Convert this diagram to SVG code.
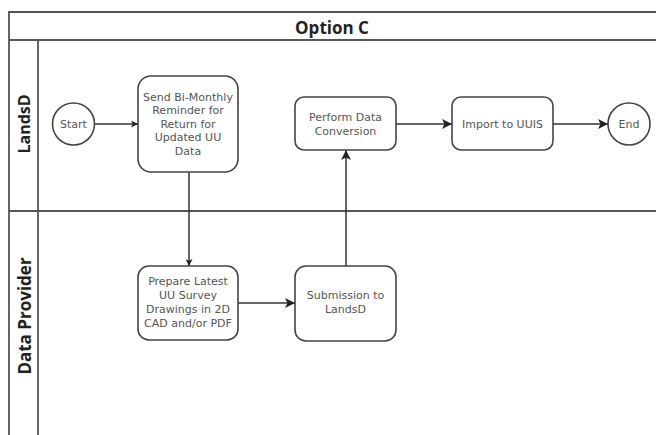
<svg xmlns="http://www.w3.org/2000/svg" width="656" height="435" viewBox="0 0 656 435">
<style>
.frame{fill:none;stroke:#555;stroke-width:1.8}
.node{fill:#fff;stroke:#444;stroke-width:1.6}
.t{font-family:"DejaVu Sans","Noto Sans",sans-serif;font-size:11px;fill:#555;text-anchor:middle;dominant-baseline:central}
.h{font-family:"Open Sans","Noto Sans",sans-serif;font-weight:bold;fill:#222;text-anchor:middle;dominant-baseline:central}
.c{fill:none;stroke:#333;stroke-width:1.5}
</style>
<defs>
<marker id="ah" viewBox="0 0 10 10" refX="10" refY="5" markerWidth="7" markerHeight="7" markerUnits="userSpaceOnUse" orient="auto"><path d="M0,0 L10,5 L0,10 L2.5,5 z" fill="#222"/></marker>
<marker id="ahb" viewBox="0 0 10 10" refX="10" refY="5" markerWidth="10" markerHeight="10" markerUnits="userSpaceOnUse" orient="auto"><path d="M0,0 L10,5 L0,10 L2.5,5 z" fill="#222"/></marker>
</defs>
<rect width="656" height="435" fill="#fff"/>
<g id="pool">
<path class="frame" d="M9,437 V12 H658 M9,40 H658 M38,40 V437 M9,211 H658"/>
<text class="h" x="332" y="27" font-size="17">Option C</text>
</g>
<g id="lane-landsd"><text class="h" font-size="16" transform="translate(24,124) rotate(-90)">LandsD</text></g>
<g id="lane-provider"><text class="h" font-size="17" transform="translate(24,316) rotate(-90)">Data Provider</text></g>
<g id="connectors">
<line class="c" x1="95" y1="124" x2="138" y2="124" marker-end="url(#ah)"/>
<line class="c" x1="189" y1="172" x2="189" y2="266" marker-end="url(#ah)"/>
<line class="c" x1="238" y1="303" x2="295" y2="303" marker-end="url(#ahb)"/>
<line class="c" x1="346" y1="266" x2="346" y2="150" marker-end="url(#ahb)"/>
<line class="c" x1="396" y1="124" x2="452" y2="124" marker-end="url(#ahb)"/>
<line class="c" x1="553" y1="124" x2="608" y2="124" marker-end="url(#ahb)"/>
</g>
<g id="start"><circle class="node" cx="73.5" cy="124" r="21"/><text class="t" x="73.5" y="124">Start</text></g>
<g id="send"><rect class="node" x="138" y="76" width="100" height="96" rx="13"/>
<text class="t" x="188" y="97">Send Bi-Monthly</text><text class="t" x="188" y="110.5">Reminder for</text><text class="t" x="188" y="124">Return for</text><text class="t" x="188" y="137.5">Updated UU</text><text class="t" x="188" y="151">Data</text></g>
<g id="perform"><rect class="node" x="295" y="97" width="101" height="53" rx="9"/>
<text class="t" x="345.5" y="117">Perform Data</text><text class="t" x="345.5" y="131">Conversion</text></g>
<g id="import"><rect class="node" x="452" y="97" width="101" height="53" rx="9"/>
<text class="t" x="502.5" y="124">Import to UUIS</text></g>
<g id="end"><circle class="node" cx="629" cy="124" r="21"/><text class="t" x="629" y="124">End</text></g>
<g id="prepare"><rect class="node" x="138" y="266" width="100" height="74" rx="11"/>
<text class="t" x="188" y="281">Prepare Latest</text><text class="t" x="188" y="295">UU Survey</text><text class="t" x="188" y="309">Drawings in 2D</text><text class="t" x="188" y="323">CAD and/or PDF</text></g>
<g id="submission"><rect class="node" x="295" y="266" width="101" height="75" rx="11"/>
<text class="t" x="345.5" y="295">Submission to</text><text class="t" x="345.5" y="309">LandsD</text></g>
</svg>
